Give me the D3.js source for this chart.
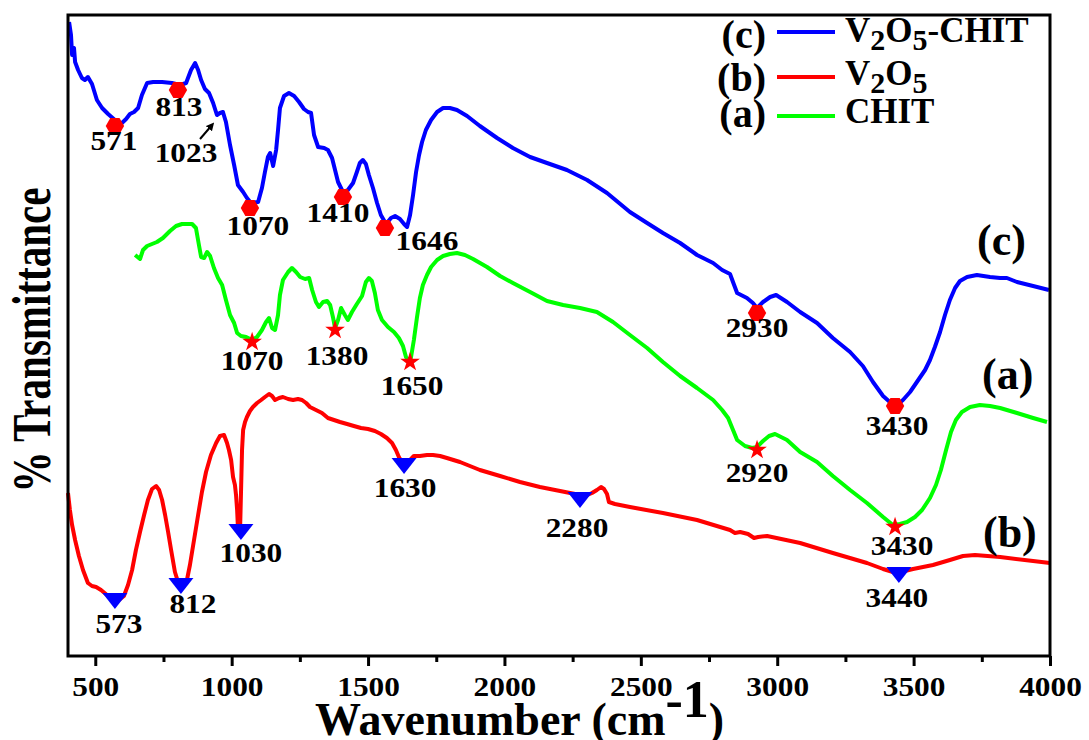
<!DOCTYPE html>
<html>
<head>
<meta charset="utf-8">
<script src="https://cdn.jsdelivr.net/npm/d3@7"></script>
<style>
  body { margin: 0; background: #fff; }
  svg text { font-family: 'Liberation Serif', 'Times New Roman', serif; font-weight: bold; fill: #000; }
</style>
</head>
<body>
<div id="root"></div>
<script>
// spectra, [wavenumber, transmittance (arb. offset units)]
const compositeSpectrum = [
  [404, 63.4], [411, 62.1], [415, 60.1], [422, 60.8], [426, 59.4], [437, 58.6], [451, 57.8], [462, 57.6],
  [473, 57.9], [488, 57.2], [506, 55.6], [525, 54.8], [547, 54.2], [572, 53.6], [594, 53.2], [613, 53.7],
  [627, 54.2], [642, 54.4], [657, 54.8], [671, 56.1], [690, 57.3], [712, 57.4], [745, 57.4], [781, 57.3],
  [811, 57.1], [833, 57.3], [851, 58.6], [866, 59.3], [877, 58.6], [888, 57.6], [902, 56.7], [917, 56.3],
  [932, 55.3], [946, 54.1], [957, 54.3], [968, 54.4], [979, 53.4], [994, 51.1], [1009, 49.1], [1023, 47.1],
  [1042, 46.4], [1056, 45.8], [1071, 45.3], [1097, 45.4], [1111, 46.8], [1122, 48.4], [1133, 49.9], [1141, 50.3],
  [1152, 49.0], [1163, 50.6], [1170, 52.6], [1177, 54.8], [1192, 56.0], [1210, 56.3], [1229, 56.0], [1247, 55.4],
  [1265, 54.7], [1280, 54.4], [1291, 54.3], [1302, 52.1], [1317, 50.9], [1339, 50.8], [1353, 50.6], [1368, 49.8],
  [1379, 48.6], [1390, 47.4], [1408, 46.4], [1426, 46.6], [1445, 47.3], [1459, 48.4], [1470, 49.3], [1481, 49.6],
  [1492, 49.2], [1503, 48.1], [1518, 46.8], [1533, 45.3], [1547, 44.1], [1566, 43.2], [1584, 43.8], [1599, 44.0],
  [1617, 43.7], [1632, 43.2], [1643, 42.9], [1654, 44.1], [1665, 46.1], [1676, 48.4], [1687, 50.1], [1698, 51.4],
  [1712, 52.6], [1731, 53.6], [1753, 54.4], [1775, 54.8], [1800, 54.8], [1826, 54.6], [1863, 54.0], [1910, 53.0],
  [1973, 51.8], [2031, 50.8], [2094, 49.9], [2156, 49.3], [2229, 48.6], [2303, 47.6], [2376, 46.3], [2460, 44.4],
  [2523, 43.3], [2581, 42.3], [2644, 41.3], [2706, 40.1], [2765, 39.3], [2798, 38.6], [2827, 38.2], [2842, 37.1],
  [2853, 36.3], [2889, 35.8], [2911, 35.3], [2926, 34.8], [2948, 35.4], [2974, 35.9], [2996, 36.1], [3036, 35.4],
  [3084, 34.4], [3146, 33.3], [3204, 31.8], [3267, 30.4], [3314, 29.0], [3351, 27.4], [3388, 26.0], [3421, 25.2],
  [3439, 25.1], [3461, 25.6], [3487, 26.4], [3512, 27.4], [3542, 28.6], [3560, 29.6], [3578, 30.9], [3597, 32.4],
  [3615, 34.1], [3633, 35.6], [3652, 36.8], [3670, 37.5], [3696, 37.9], [3732, 38.1], [3780, 37.9], [3817, 37.8],
  [3842, 37.8], [3879, 37.4], [3938, 37.0], [3996, 36.6]
]

const chitSpectrum = [
  [646, 40.1], [664, 39.7], [675, 40.6], [690, 41.0], [708, 41.2], [726, 41.4], [748, 41.8], [774, 42.5],
  [796, 43.0], [818, 43.2], [855, 43.2], [869, 42.8], [880, 41.1], [888, 39.9], [899, 39.8], [910, 40.4],
  [921, 40.0], [935, 38.8], [950, 37.8], [965, 37.1], [979, 35.6], [994, 34.1], [1009, 33.3], [1020, 32.3],
  [1034, 32.0], [1053, 31.9], [1075, 31.6], [1093, 31.9], [1111, 32.6], [1126, 33.4], [1137, 33.8], [1148, 32.8],
  [1159, 32.6], [1170, 34.1], [1177, 36.1], [1188, 37.6], [1207, 38.4], [1221, 38.8], [1236, 38.4], [1251, 37.9],
  [1269, 37.7], [1284, 37.8], [1295, 36.6], [1309, 35.4], [1320, 34.9], [1335, 35.4], [1350, 35.5], [1361, 35.1],
  [1372, 33.8], [1379, 32.8], [1390, 33.6], [1401, 34.8], [1415, 34.1], [1426, 33.6], [1441, 34.4], [1459, 35.2],
  [1478, 36.0], [1492, 37.4], [1503, 37.8], [1514, 37.5], [1525, 36.3], [1536, 34.6], [1551, 33.6], [1573, 32.9],
  [1595, 32.4], [1613, 31.8], [1628, 31.0], [1639, 29.9], [1646, 29.6], [1657, 29.8], [1668, 31.6], [1679, 33.8],
  [1690, 35.8], [1701, 37.1], [1716, 38.1], [1731, 38.9], [1753, 39.6], [1775, 40.0], [1800, 40.2], [1826, 40.3],
  [1855, 40.1], [1885, 39.7], [1936, 38.9], [1984, 38.0], [2031, 37.3], [2094, 36.4], [2156, 35.5], [2215, 35.1],
  [2277, 34.8], [2339, 34.4], [2398, 33.4], [2460, 32.1], [2523, 30.8], [2581, 29.4], [2644, 28.0], [2706, 26.8],
  [2765, 25.6], [2798, 24.6], [2820, 23.8], [2838, 22.6], [2853, 21.6], [2882, 21.0], [2908, 20.8], [2926, 20.9],
  [2948, 21.5], [2970, 22.0], [2992, 22.2], [3036, 21.6], [3084, 20.4], [3146, 19.4], [3204, 18.0], [3267, 16.6],
  [3329, 15.3], [3388, 13.9], [3424, 13.1], [3450, 13.2], [3476, 13.4], [3505, 13.9], [3531, 14.6], [3560, 15.8],
  [3582, 17.1], [3600, 18.6], [3619, 20.6], [3637, 22.4], [3655, 23.6], [3677, 24.4], [3707, 24.9], [3743, 25.1],
  [3780, 25.0], [3817, 24.8], [3879, 24.3], [3938, 23.8], [3989, 23.4]
]

const oxideSpectrum = [
  [400, 16.3], [407, 14.6], [415, 13.1], [426, 11.6], [440, 10.0], [455, 8.6], [473, 7.3], [488, 7.0],
  [503, 6.9], [521, 6.6], [543, 6.1], [565, 5.6], [587, 5.6], [605, 6.0], [620, 7.1], [635, 8.6],
  [649, 10.6], [664, 12.4], [679, 14.1], [693, 15.6], [708, 16.7], [723, 17.0], [734, 16.6], [745, 15.6],
  [756, 14.1], [767, 12.4], [778, 10.6], [792, 8.4], [807, 7.1], [822, 6.9], [836, 7.6], [847, 9.1],
  [862, 11.6], [877, 14.1], [891, 16.4], [906, 18.4], [924, 20.1], [943, 21.3], [957, 22.0], [972, 22.1],
  [983, 21.3], [990, 20.6], [998, 19.6], [1005, 17.9], [1012, 17.1], [1016, 16.1], [1020, 14.6], [1023, 12.8],
  [1031, 12.8], [1034, 16.1], [1038, 20.6], [1042, 22.6], [1049, 23.4], [1056, 23.9], [1067, 24.5], [1078, 24.9],
  [1093, 25.3], [1108, 25.6], [1122, 25.9], [1137, 26.2], [1148, 26.0], [1159, 25.6], [1174, 25.8], [1188, 25.9],
  [1207, 25.7], [1225, 25.6], [1243, 25.7], [1258, 25.6], [1273, 25.3], [1287, 24.9], [1309, 24.6], [1331, 24.3],
  [1353, 23.8], [1375, 23.6], [1397, 23.4], [1423, 23.2], [1448, 23.0], [1474, 22.8], [1500, 22.7], [1525, 22.5],
  [1547, 22.2], [1569, 21.8], [1588, 21.3], [1602, 20.6], [1613, 19.9], [1624, 19.4], [1639, 19.2], [1654, 19.6],
  [1668, 20.0], [1690, 20.0], [1716, 20.1], [1738, 20.1], [1764, 20.0], [1789, 19.8], [1837, 19.4], [1910, 18.6],
  [1984, 18.0], [2057, 17.4], [2130, 16.9], [2204, 16.5], [2259, 16.2], [2295, 16.0], [2321, 16.3], [2339, 16.6],
  [2354, 16.9], [2365, 16.7], [2376, 16.2], [2383, 15.4], [2405, 15.2], [2460, 14.9], [2581, 14.3], [2706, 13.6],
  [2827, 12.6], [2845, 12.3], [2864, 12.4], [2893, 12.2], [2915, 11.8], [2930, 11.9], [2963, 12.0], [3084, 11.3],
  [3204, 10.3], [3329, 9.3], [3388, 8.7], [3424, 8.4], [3468, 8.5], [3498, 8.7], [3571, 9.1], [3633, 9.6],
  [3681, 10.0], [3725, 10.1], [3817, 9.9], [3938, 9.5], [4000, 9.3]
]

// marked peaks: label text, marker wavenumber, marker value
const compositePeaks = [
  ['571', 572, 53.0], ['813', 803, 56.6], ['1070', 1067, 44.8], ['1410', 1408, 45.9],
  ['1646', 1562, 42.8], ['2930', 2926, 34.3], ['3430', 3432, 25.0]
]
const chitPeaks = [
  ['1070', 1075, 31.4], ['1380', 1379, 32.6], ['1650', 1654, 29.4], ['2920', 2926, 20.6], ['3430', 3432, 12.9]
]
const oxidePeaks = [
  ['573', 572, 5.5], ['812', 814, 7.0], ['1030', 1034, 12.4], ['1630', 1632, 19.0],
  ['2280', 2277, 15.6], ['3440', 3446, 8.1]
]
const arrowNote = ['1023', 928, 53.1]

const majorTicks = [500, 1000, 1500, 2000, 2500, 3000, 3500, 4000]
const minorTicks = [750, 1250, 1750, 2250, 2750, 3250, 3750]
const legendNames = ['V2O5-CHIT', 'V2O5', 'CHIT']
const legendTags = ['(c)', '(b)', '(a)']

// layout (pixels)
const width = 1089
const height = 740
const margin = { top: 16, right: 39, bottom: 84, left: 68 }
const compositeNudge = [[-1, 24], [1, 26], [8, 27], [-5, 25], [42, 22], [0, 24], [2, 29]]
const chitNudge = [[0, 28], [2, 35], [2, 33], [0, 32], [7, 28]]
const oxideNudge = [[4, 32], [12, 27], [10, 30], [1, 31], [-3, 37], [-2, 32]]
const textStretch = 'scale(1.12,1)'

const x = d3.scaleLinear().domain([400, 4000]).range([margin.left, width - margin.right])
const y = d3.scaleLinear().domain([0, 64]).range([height - margin.bottom, margin.top])

const svg = d3.select('#root').append('svg')
  .attr('width', width)
  .attr('height', height)
  .style('display', 'block')

svg.append('defs').append('marker')
  .attr('id', 'arrowhead')
  .attr('viewBox', '0 0 10 10')
  .attr('refX', 6)
  .attr('refY', 5)
  .attr('markerWidth', 4)
  .attr('markerHeight', 4)
  .attr('orient', 'auto')
  .append('path')
  .attr('d', 'M0,0L10,5L0,10z')
  .attr('fill', '#000')

// custom marker shapes
const hexagon = {
  draw (ctx, size) {
    const r = Math.sqrt(size / 2.598)
    for (let i = 0; i < 6; i++) {
      const a = i * Math.PI / 3
      if (i === 0) ctx.moveTo(r * Math.cos(a), r * Math.sin(a))
      else ctx.lineTo(r * Math.cos(a), r * Math.sin(a))
    }
    ctx.closePath()
  }
}
const downTriangle = {
  draw (ctx, size) {
    const w = Math.sqrt(size * 1.56)
    const h = w * 0.64
    ctx.moveTo(-w / 2, -h / 2)
    ctx.lineTo(w / 2, -h / 2)
    ctx.lineTo(0, h / 2)
    ctx.closePath()
  }
}

const line = d3.line()
  .x(d => x(d[0]))
  .y(d => y(d[1]))

const series = [
  { data: compositeSpectrum, color: '#0000ff' },
  { data: chitSpectrum, color: '#00ff00' },
  { data: oxideSpectrum, color: '#ff0000' }
]

svg.append('g')
  .selectAll('path')
  .data(series)
  .join('path')
  .attr('d', d => line(d.data))
  .attr('fill', 'none')
  .attr('stroke', d => d.color)
  .attr('stroke-width', 4)
  .attr('stroke-linejoin', 'round')

function drawPeaks (peaks, nudge, symbol, fill) {
  const g = svg.append('g')
  g.selectAll('path')
    .data(peaks)
    .join('path')
    .attr('transform', d => `translate(${x(d[1])},${y(d[2])})`)
    .attr('d', symbol)
    .attr('fill', fill)
  g.selectAll('text')
    .data(peaks)
    .join('text')
    .attr('transform', (d, i) => `translate(${x(d[1]) + nudge[i][0]},${y(d[2]) + nudge[i][1]}) ${textStretch}`)
    .attr('text-anchor', 'middle')
    .attr('font-size', 28)
    .text(d => d[0])
}
drawPeaks(compositePeaks, compositeNudge, d3.symbol(hexagon, 220), '#ff0000')
drawPeaks(chitPeaks, chitNudge, d3.symbol(d3.symbolStar, 120), '#ff0000')
drawPeaks(oxidePeaks, oxideNudge, d3.symbol(downTriangle, 400), '#0000ff')

// 1023 arrow
svg.append('line')
  .attr('x1', x(arrowNote[1]) - 12)
  .attr('y1', y(arrowNote[2]) + 14)
  .attr('x2', x(arrowNote[1]))
  .attr('y2', y(arrowNote[2]))
  .attr('stroke', '#000')
  .attr('stroke-width', 2)
  .attr('marker-end', 'url(#arrowhead)')
svg.append('text')
  .attr('transform', `translate(${x(arrowNote[1]) - 26},${y(arrowNote[2]) + 37}) ${textStretch}`)
  .attr('text-anchor', 'middle')
  .attr('font-size', 28)
  .text(arrowNote[0])

// axes
const xAxis = d3.axisBottom(x)
  .tickValues(majorTicks)
  .tickSize(10)
  .tickPadding(10)
  .tickFormat(d3.format('d'))
const gx = svg.append('g')
  .attr('transform', `translate(0,${y(0)})`)
  .call(xAxis)
gx.select('.domain').remove()
gx.selectAll('.tick line').attr('stroke', '#000').attr('stroke-width', 3)
gx.selectAll('.tick text')
  .attr('font-size', 28)
  .attr('font-family', null)
  .attr('transform', textStretch)

const gxMinor = svg.append('g')
  .attr('transform', `translate(0,${y(0)})`)
  .call(d3.axisBottom(x).tickValues(minorTicks).tickSize(6).tickFormat(''))
gxMinor.select('.domain').remove()
gxMinor.selectAll('.tick line').attr('stroke', '#000').attr('stroke-width', 3)

svg.append('rect')
  .attr('x', x.range()[0])
  .attr('y', y.range()[1] - 1)
  .attr('width', x.range()[1] - x.range()[0])
  .attr('height', y.range()[0] - y.range()[1] + 1)
  .attr('fill', 'none')
  .attr('stroke', '#000')
  .attr('stroke-width', 3)

// axis titles
svg.append('text')
  .attr('transform', 'translate(50,340) rotate(-90) scale(0.76,1)')
  .attr('text-anchor', 'middle')
  .attr('font-size', 54)
  .text('% Transmittance')

const xTitle = svg.append('text')
  .attr('x', 315)
  .attr('y', 735)
  .attr('font-size', 46)
xTitle.append('tspan').text('Wavenumber (cm')
xTitle.append('tspan').attr('font-size', 52).attr('dy', -18).text('-1')
xTitle.append('tspan').attr('dy', 18).text(')')

// legend
const legendRows = [
  { line: 32, text: 42, tag: 48 },
  { line: 77, text: 85, tag: 91 },
  { line: 116, text: 123, tag: 127 }
]
const legendColors = ['#0000ff', '#ff0000', '#00ff00']
const legend = svg.append('g')
legendNames.forEach((name, i) => {
  const row = legendRows[i]
  legend.append('text')
    .attr('x', 766)
    .attr('y', row.tag)
    .attr('text-anchor', 'end')
    .attr('font-size', 40)
    .text(legendTags[i])
  legend.append('line')
    .attr('x1', 777)
    .attr('x2', 835)
    .attr('y1', row.line)
    .attr('y2', row.line)
    .attr('stroke', legendColors[i])
    .attr('stroke-width', 4)
  const t = legend.append('text')
    .attr('x', 845)
    .attr('y', row.text)
    .attr('font-size', 35)
  let shifted = false
  name.split(/(\d)/).filter(s => s.length).forEach(part => {
    const isSub = /^\d$/.test(part)
    const dy = isSub && !shifted ? 8 : (!isSub && shifted ? -8 : 0)
    shifted = isSub
    t.append('tspan')
      .attr('dy', dy)
      .attr('font-size', isSub ? 30 : 35)
      .text(part)
  })
})

// curve tags at right
const curveTags = [['(c)', 977, 255], ['(a)', 982, 389], ['(b)', 983, 547]]
svg.append('g')
  .selectAll('text')
  .data(curveTags)
  .join('text')
  .attr('x', d => d[1])
  .attr('y', d => d[2])
  .attr('font-size', 44)
  .text(d => d[0])
</script>
</body>
</html>
